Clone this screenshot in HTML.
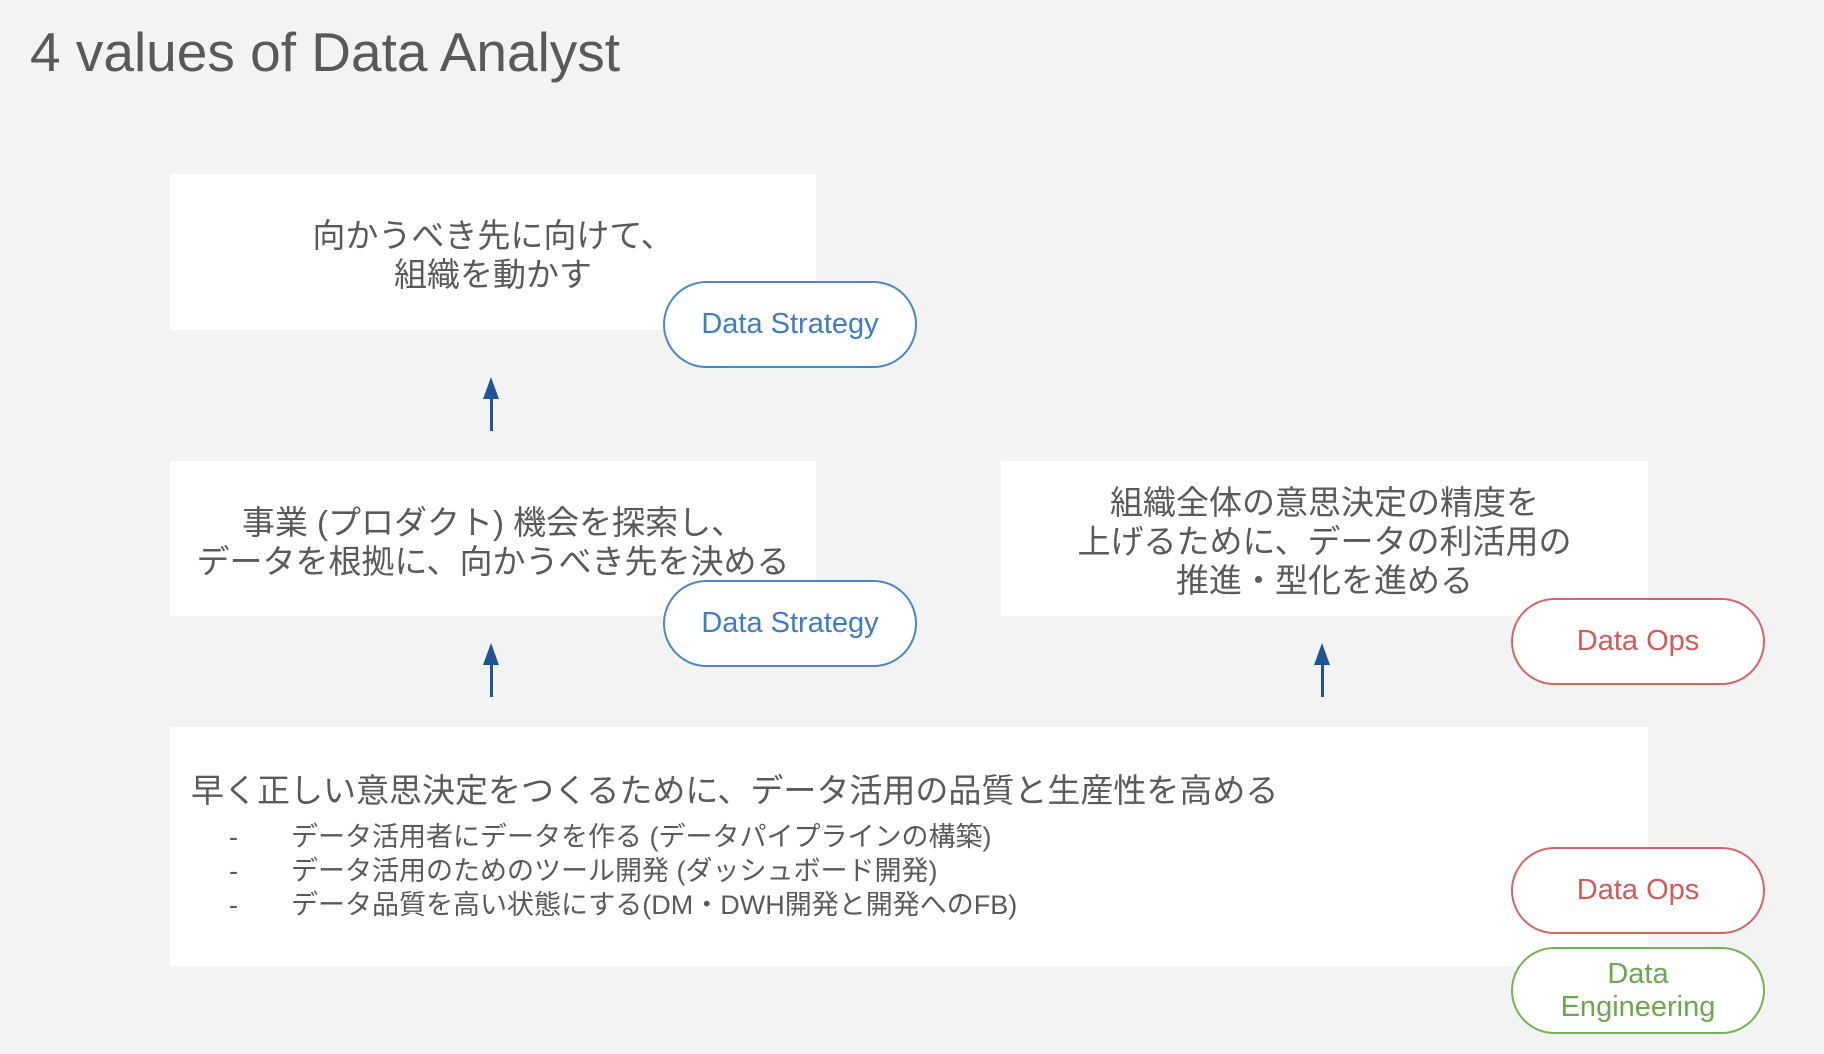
<!DOCTYPE html>
<html><head><meta charset="utf-8"><style>
*{margin:0;padding:0;box-sizing:border-box}
body{width:1824px;height:1054px;background:#f3f3f3;position:relative;overflow:hidden;font-family:"Liberation Sans","Noto Sans CJK JP",sans-serif;color:#555}
.t{position:absolute;left:30px;top:20px;font-size:55px;color:#595959}
.box{position:absolute;background:#fff;display:flex;flex-direction:column;justify-content:center;align-items:center;text-align:center;font-size:33px;line-height:39px;color:#5a5a5a;white-space:nowrap}
.pill{position:absolute;width:254px;height:87px;border:2px solid;border-radius:44px;background:#fff;display:flex;align-items:center;justify-content:center;text-align:center;font-size:29px;line-height:33px}
.b{border-color:#4a85d0;color:#3f7cc8}
.r{border-color:#d66464;color:#d35a5a}
.g{border-color:#76b050;color:#6aa84f}
.ar{position:absolute;width:3px;background:#1f5596}
.ah{position:absolute;width:0;height:0;border-left:8px solid transparent;border-right:8px solid transparent;border-bottom:22px solid #1f5596}
</style></head><body>
<div class="t">4 values of Data Analyst</div>

<div class="box" style="left:170px;top:174px;width:646px;height:156px;padding-top:6px">向かうべき先に向けて、<br>組織を動かす</div>
<div class="pill b" style="left:663px;top:281px">Data Strategy</div>

<div class="ah" style="left:483px;top:377px"></div><div class="ar" style="left:490px;top:395px;height:36px"></div>

<div class="box" style="left:170px;top:461px;width:646px;height:155px;padding-top:6px">事業 (プロダクト) 機会を探索し、<br>データを根拠に、向かうべき先を決める</div>
<div class="pill b" style="left:663px;top:580px">Data Strategy</div>

<div class="box" style="left:1001px;top:461px;width:647px;height:155px;padding-top:6px">組織全体の意思決定の精度を<br>上げるために、データの利活用の<br>推進・型化を進める</div>
<div class="pill r" style="left:1511px;top:598px">Data Ops</div>

<div class="ah" style="left:483px;top:643px"></div><div class="ar" style="left:490px;top:661px;height:36px"></div>
<div class="ah" style="left:1314px;top:643px"></div><div class="ar" style="left:1321px;top:661px;height:36px"></div>

<div style="position:absolute;left:170px;top:727px;width:1478px;height:239px;background:#fff"></div>
<div style="position:absolute;left:191px;top:764px;font-size:33px;color:#5a5a5a;white-space:nowrap">早く正しい意思決定をつくるために、データ活用の品質と生産性を高める</div>
<div style="position:absolute;left:229px;top:820px;font-size:27px;line-height:34px;color:#5a5a5a;white-space:nowrap">
-<span style="position:absolute;left:62px">データ活用者にデータを作る (データパイプラインの構築)</span><br>
-<span style="position:absolute;left:62px">データ活用のためのツール開発 (ダッシュボード開発)</span><br>
-<span style="position:absolute;left:62px">データ品質を高い状態にする(DM・DWH開発と開発へのFB)</span>
</div>
<div class="pill r" style="left:1511px;top:847px">Data Ops</div>
<div class="pill g" style="left:1511px;top:947px">Data<br>Engineering</div>
</body></html>
